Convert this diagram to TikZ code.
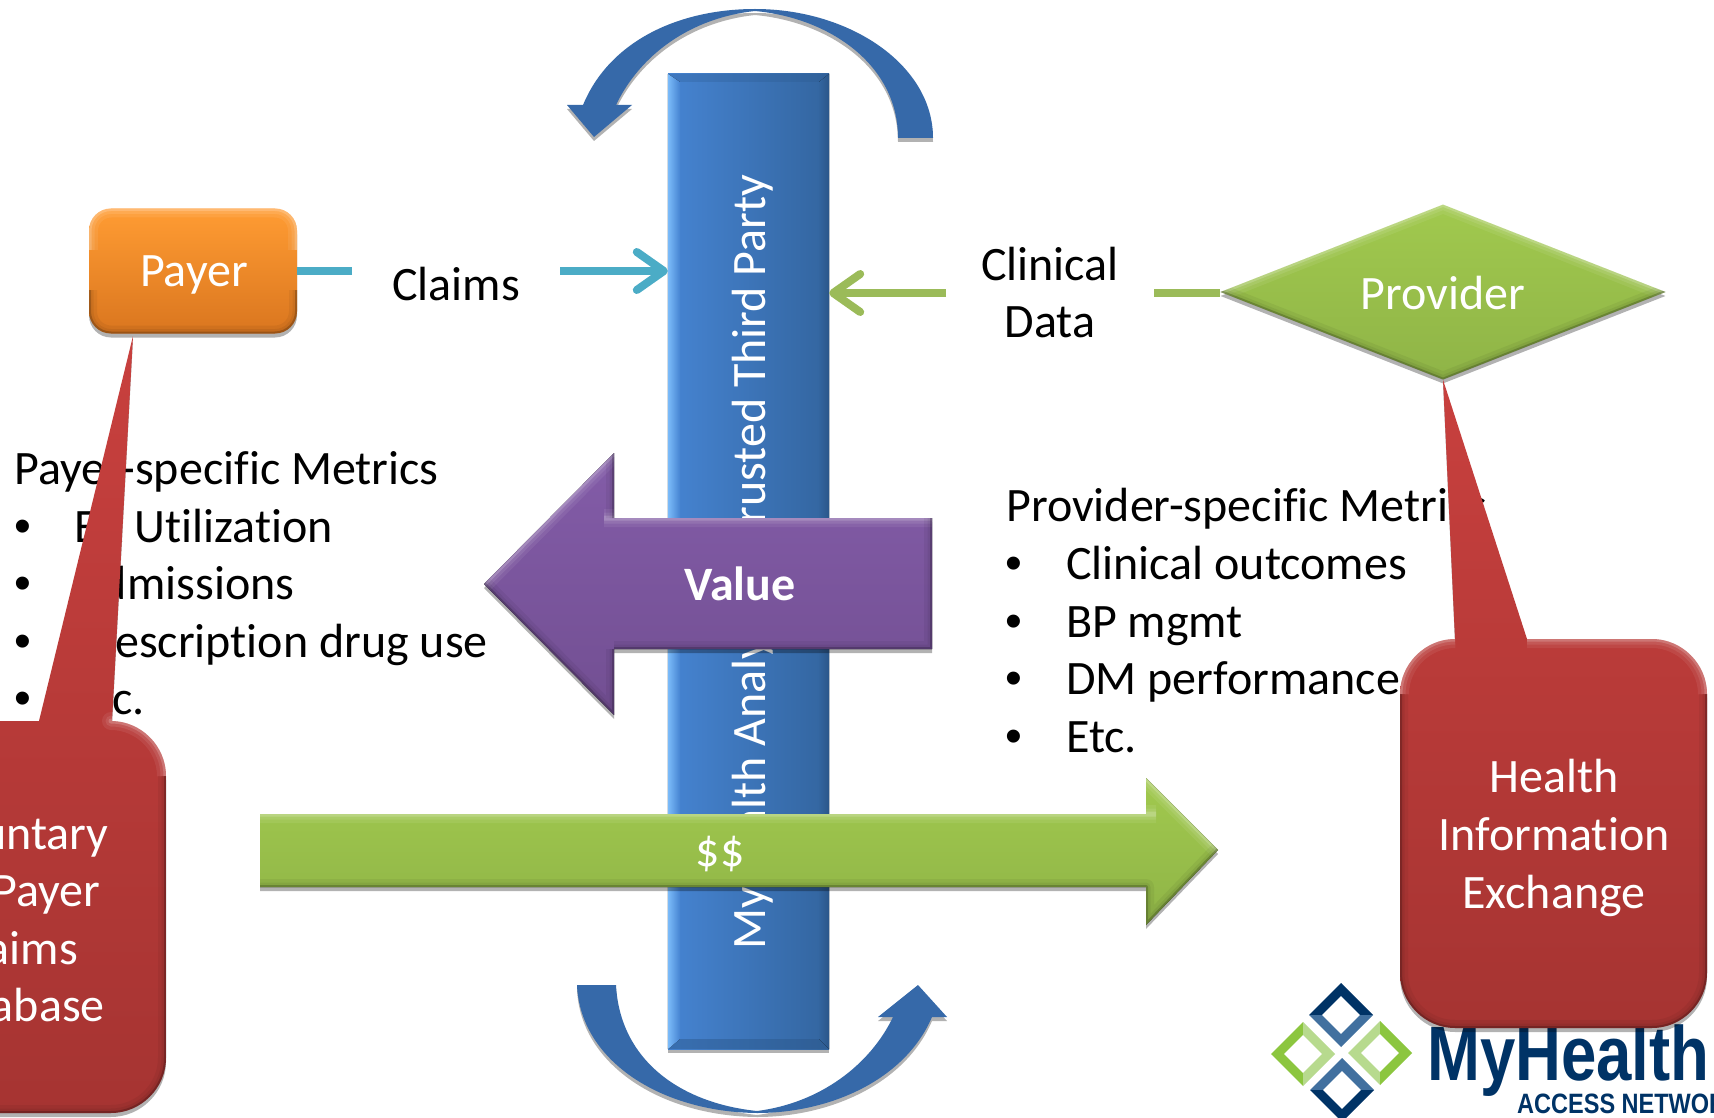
\documentclass[tikz,border=0pt]{standalone}
\usepackage{fontspec}
\setmainfont[Ligatures=NoCommon]{Carlito}
\newfontfamily\logofont{Liberation Sans}
\usetikzlibrary{arrows.meta,shapes.geometric,shadows}
\definecolor{barL}{HTML}{4684D2}\definecolor{barR}{HTML}{33659F}
\definecolor{barH}{HTML}{7CBCFA}\definecolor{barD}{HTML}{2A5689}
\definecolor{arcblue}{HTML}{3669A9}
\definecolor{tealc}{HTML}{4BACC6}\definecolor{limec}{HTML}{9BBB59}
\definecolor{navy}{HTML}{003366}\definecolor{navyL}{HTML}{41709F}
\definecolor{logoG}{HTML}{8CC63F}\definecolor{logoL}{HTML}{B7DA8E}
\definecolor{redT}{HTML}{C8403E}\definecolor{redB}{HTML}{A63432}
\definecolor{orT}{HTML}{FF9C33}\definecolor{orB}{HTML}{DA761F}
\definecolor{grT}{HTML}{A1C94E}\definecolor{grB}{HTML}{8FB447}
\definecolor{puT}{HTML}{835CA8}\definecolor{puB}{HTML}{724F92}
\tikzset{
  x=1pt,y=-1pt,
  lbl/.style={font=\fontsize{48}{57}\selectfont,inner sep=0pt,anchor=base},
  lft/.style={lbl,anchor=base west},
  bul/.style={lft,font=\logofont\fontsize{48}{57}\selectfont},
  wht/.style={lbl,text=white},
  shad/.style={drop shadow={shadow xshift=0pt,shadow yshift=-4pt,opacity=.3,fill=black}},
  redfill/.style={shad,top color=redT,bottom color=redB},
  barb/.style={line width=8pt,-{Straight Barb[length=27pt,width=38pt,round]}},
  logotxt/.style={inner sep=0pt,anchor=base west,text=navy,transform shape},
}
\newcommand\logodia[7]{% cx cy half ul ur ll lr
  \begin{scope}[shift={(#1,#2)}]
    \pgfmathsetmacro\hh{#3}\pgfmathsetmacro\ii{#3*0.6}
    \fill[#4] (-\hh,0)--(0,-\hh)--(0,-\ii)--(-\ii,0)--cycle;
    \fill[#5] (\hh,0)--(0,-\hh)--(0,-\ii)--(\ii,0)--cycle;
    \fill[#6] (-\hh,0)--(0,\hh)--(0,\ii)--(-\ii,0)--cycle;
    \fill[#7] (\hh,0)--(0,\hh)--(0,\ii)--(\ii,0)--cycle;
  \end{scope}}
\newcommand\bevel[3]{% clip path, light edges, dark edges
  \begin{scope}
    \clip #1;
    \draw[white,opacity=.07,line width=18pt,line join=round] #2;
    \draw[white,opacity=.09,line width=11pt,line join=round] #2;
    \draw[white,opacity=.18,line width=5pt,line join=round] #2;
    \draw[black,opacity=.05,line width=16pt,line join=round] #3;
    \draw[black,opacity=.06,line width=9pt,line join=round] #3;
    \draw[black,opacity=.20,line width=4pt,line join=round] #3;
  \end{scope}}
\begin{document}
\begin{tikzpicture}
\useasboundingbox (0,0) rectangle (1714,1118);
\clip (0,0) rectangle (1714,1118);
\fill[white] (0,0) rectangle (1714,1118);
% logo
\logodia{1341}{1015}{32}{navy}{navy}{navyL}{navyL}
\logodia{1303}{1054}{32}{logoG}{logoL}{logoG}{logoL}
\logodia{1380}{1053}{32}{logoL}{logoG}{logoL}{logoG}
\logodia{1342}{1090}{32}{navyL}{navyL}{navy}{navy}
\node[logotxt,xscale=.825,font=\logofont\bfseries\fontsize{77}{77}\selectfont] (logo1) at (1427,1080) {MyHealth};
\node[logotxt,xscale=.84,font=\logofont\bfseries\fontsize{28}{28}\selectfont] (logo2) at (1517,1113) {ACCESS NETWORK};
% arcs
\fill[arcblue,shad] (933,138) .. controls (933,65) and (850,9) .. (755,9)
  .. controls (680,9) and (610,40) .. (583,105) -- (567,105) -- (594,137) -- (632,105) -- (616,105)
  .. controls (640,55) and (690,18) .. (755,11) .. controls (830,18) and (898,65) .. (898,138) -- cycle;
\fill[arcblue,shad] (577,985) .. controls (580,1060) and (660,1112) .. (757,1113)
  .. controls (830,1113) and (905,1080) .. (932,1017) -- (947,1017) -- (918,985) -- (878,1017) -- (893,1017)
  .. controls (870,1065) and (820,1103) .. (757,1111) .. controls (680,1103) and (620,1060) .. (616,985) -- cycle;
% texts behind callouts
\node[lft] (ph) at (14,484) {Payer-specific Metrics};
\node[bul] (pb1) at (14,542) {•}; \node[lft] (p1) at (74,542) {ER Utilization};
\node[bul] (pb2) at (14,599) {•}; \node[lft] (p2) at (74,599) {Admissions};
\node[bul] (pb3) at (14,657) {•}; \node[lft] (p3) at (74,657) {Prescription drug use};
\node[bul] (pb4) at (14,714) {•}; \node[lft] (p4) at (74,714) {Etc.};
\node[lft] (qh) at (1006,521) {Provider-specific Metrics};
\node[bul] (qb1) at (1005,579) {•}; \node[lft] (q1) at (1066,579) {Clinical outcomes};
\node[bul] (qb2) at (1005,637) {•}; \node[lft] (q2) at (1066,637) {BP mgmt};
\node[bul] (qb3) at (1005,694) {•}; \node[lft] (q3) at (1066,694) {DM performance};
\node[bul] (qb4) at (1005,752) {•}; \node[lft] (q4) at (1066,752) {Etc.};
% central bar
\node[shad,left color=barL,right color=barR,minimum width=161pt,minimum height=975pt,inner sep=0pt] (bar) at (748.5,561.5) {};
\fill[barD,opacity=.25] (bar.north west)--++(12,8)--([shift={(-10,8)}]bar.north east)--(bar.north east)--cycle;
\fill[barD,opacity=.45] (bar.south west)--++(12,-10)--([shift={(-10,-10)}]bar.south east)--(bar.south east)--cycle;
\fill[left color=barH,right color=barL] (bar.north west)--++(12,8)--([shift={(12,-10)}]bar.south west)--(bar.south west)--cycle;
\fill[left color=barR,right color=barD] (bar.north east)--++(-10,8)--([shift={(-10,-10)}]bar.south east)--(bar.south east)--cycle;
\node[wht,rotate=90] (bartext) at (765,562) {MyHealth Analytics: Trusted Third Party};
% payer
\node[shad,rounded corners=22pt,top color=orT,bottom color=orB,minimum width=208pt,minimum height=125pt,inner sep=0pt] (payer) at (193,271) {};
\bevel{[rounded corners=22pt] (89,208.5) rectangle (297,333.5)}{[rounded corners=22pt] (89,250)--(89,208.5)--(297,208.5)--(297,250)}{[rounded corners=22pt] (89,290)--(89,333.5)--(297,333.5)--(297,290)}
\node[wht] (payertext) at (194,287) {Payer};
% provider
\node[shad,diamond,aspect=2.54,top color=grT,bottom color=grB,minimum width=445pt,minimum height=175pt,inner sep=0pt] (provider) at (1443,292) {};
\bevel{(provider.west)--(provider.north)--(provider.east)--(provider.south)--cycle}{(provider.west)--(provider.north)--(provider.east)}{(provider.west)--(provider.south)--(provider.east)}
\node[wht] (providertext) at (1443,309) {Provider};
% claims connectors
\node[lbl] (claims) at (456,300) {Claims};
\coordinate (c1) at (352,271);\coordinate (c2) at (560,271);\coordinate (c3) at (bar.west|-c2);
\draw[tealc,line width=8pt,shad] (payer.east) -- (c1);
\draw[tealc,barb] (c2) -- (c3);
% clinical connectors
\node[lbl] (clin1) at (1050,280) {Clinical};
\node[lbl] (clin2) at (1050,337) {Data};
\coordinate (d1) at (946,293);\coordinate (d2) at (1154,293);\coordinate (d3) at (bar.east|-d1);
\draw[limec,barb] (d1) -- (d3);
\draw[limec,line width=8pt] (d2) -- (provider.west|-d2);
% value arrow
\fill[shad,top color=puT,bottom color=puB] (484,584)--(614,453)--(614,518)--(932,518)--(932,649)--(614,649)--(614,715)--cycle;
\bevel{(484,584)--(614,453)--(614,518)--(932,518)--(932,649)--(614,649)--(614,715)--cycle}{(484,584)--(614,453) (604,518)--(932,518)}{(614,453)--(614,518) (932,518)--(932,649)--(614,649) (614,649)--(614,715)--(484,584)}
\node[wht,font=\fontsize{48}{57}\selectfont\bfseries] (value) at (740,600) {Value};
% money arrow
\fill[shad,top color=grT,bottom color=grB] (260,814)--(1146,814)--(1146,778)--(1218,850)--(1146,925)--(1146,887)--(260,887)--cycle;
\bevel{(260,814)--(1146,814)--(1146,778)--(1218,850)--(1146,925)--(1146,887)--(260,887)--cycle}{(260,814)--(1156,814) (1146,778)--(1218,850)}{(1218,850)--(1146,925)--(1146,887)--(260,887)}
\node[wht] (money) at (720,866) {\$\$};
% callouts
\coordinate (ltip) at (133,336);
\path[redfill] (112,721) -- (111,721) .. controls (141,721) and (166,746) .. (166,776) -- (166,1058) .. controls (166,1088) and (141,1113) .. (111,1113) -- (-138,1113) -- (-138,721) -- (39,721) -- (ltip) -- cycle;
\bevel{(112,721) -- (111,721) .. controls (141,721) and (166,746) .. (166,776) -- (166,1058) .. controls (166,1088) and (141,1113) .. (111,1113) -- (-138,1113) -- (-138,721) -- (39,721) -- (ltip) -- cycle}{(112,721) -- (111,721) .. controls (141,721) and (166,746) .. (166,776)}{(166,776) -- (166,1058) .. controls (166,1088) and (141,1113) .. (111,1113) -- (-138,1113)}
\path[redfill] (1527,639) -- (1652,639) .. controls (1682,639) and (1707,664) .. (1707,694) -- (1707,973) .. controls (1707,1003) and (1682,1028) .. (1652,1028) -- (1455,1028) .. controls (1425,1028) and (1400,1003) .. (1400,973) -- (1400,694) .. controls (1400,664) and (1425,639) .. (1455,639) -- (provider.south) -- cycle;
\bevel{(1527,639) -- (1652,639) .. controls (1682,639) and (1707,664) .. (1707,694) -- (1707,973) .. controls (1707,1003) and (1682,1028) .. (1652,1028) -- (1455,1028) .. controls (1425,1028) and (1400,1003) .. (1400,973) -- (1400,694) .. controls (1400,664) and (1425,639) .. (1455,639) -- (provider.south) -- cycle}{(1400,694) .. controls (1400,664) and (1425,639) .. (1455,639) (1527,639) -- (1652,639) .. controls (1682,639) and (1707,664) .. (1707,694)}{(1707,694) -- (1707,973) .. controls (1707,1003) and (1682,1028) .. (1652,1028) -- (1455,1028) .. controls (1425,1028) and (1400,1003) .. (1400,973) -- (1400,694)}
\node[wht] (l1) at (14,849) {Voluntary};
\node[wht] (l2) at (14,906) {All-Payer};
\node[wht] (l3) at (14,964) {Claims};
\node[wht] (l4) at (14,1021) {Database};
\node[wht] (r1) at (1554,792) {Health};
\node[wht] (r2) at (1554,850) {Information};
\node[wht] (r3) at (1554,908) {Exchange};
\end{tikzpicture}
\end{document}
